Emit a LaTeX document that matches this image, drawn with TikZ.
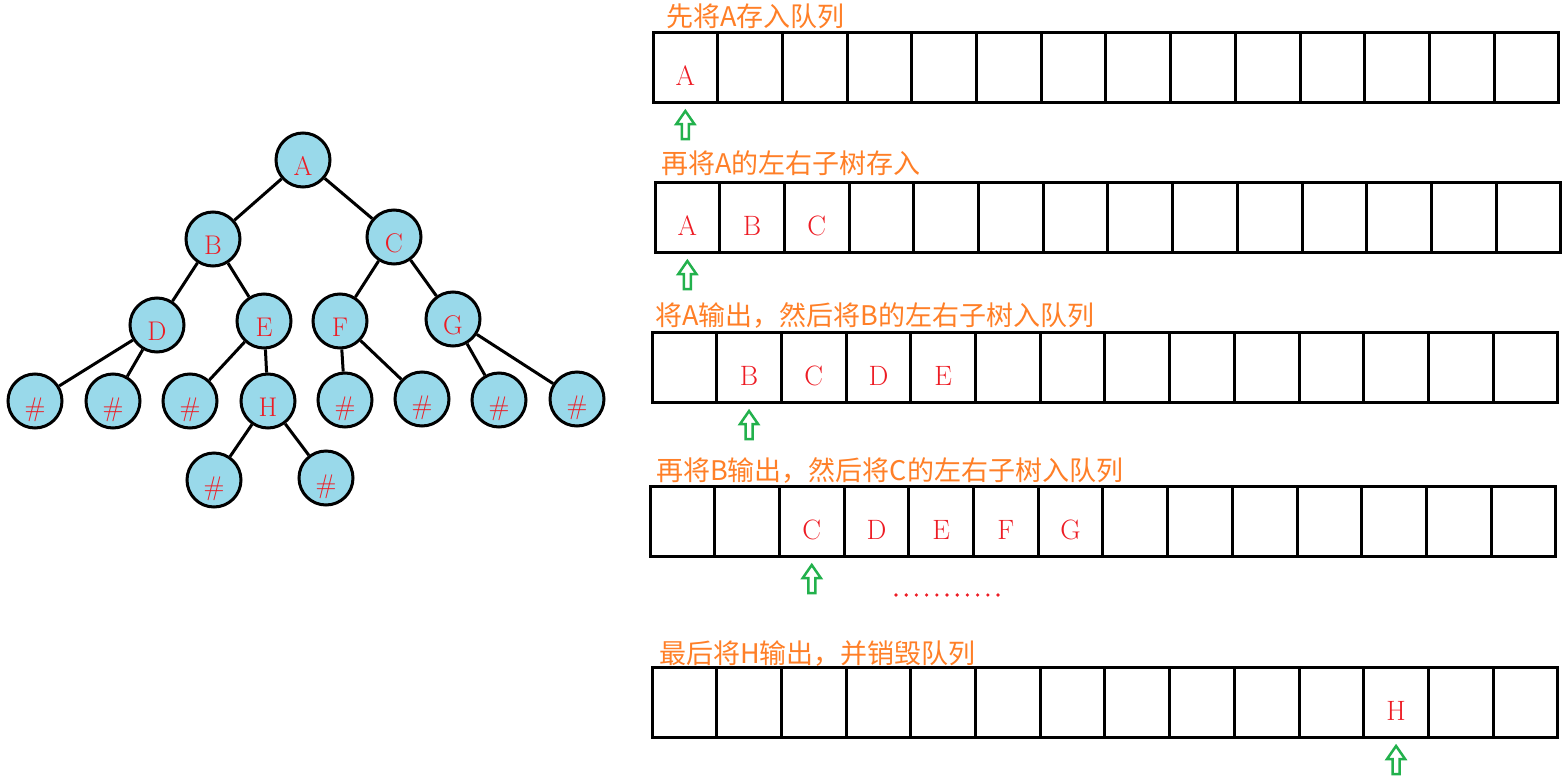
\documentclass[tikz,border=0pt]{standalone}
\usepackage{fontspec}
\newfontfamily\cjk{Noto Sans CJK SC}
\usetikzlibrary{positioning}

\definecolor{nodeblue}{RGB}{153,217,234}
\definecolor{charred}{RGB}{237,28,36}
\definecolor{caporange}{RGB}{255,127,39}
\definecolor{ptrgreen}{RGB}{34,177,76}

\begin{document}
\begin{tikzpicture}[
    x=1pt, y=-1pt,
    tnode/.style={
      circle, draw, line width=3pt,
      fill=nodeblue,
      minimum size=54pt, inner sep=0pt,
      text=charred, font=\fontsize{27}{29}\selectfont,
      text height=31pt, text depth=0pt
    },
    edge/.style={line width=3pt},
    cell/.style={
      draw, line width=3pt,
      minimum width=64.7pt, minimum height=70pt,
      inner sep=0pt, outer sep=0pt
    },
    cellchar/.style={text=charred, inner sep=0pt, font=\fontsize{28}{30}\selectfont},
    caption/.style={anchor=base west, inner sep=0pt, text=caporange,
      font=\cjk\fontsize{27}{30}\selectfont},
    pics/upptr/.style={code={
      \draw[ptrgreen, line width=2.5pt, line join=miter]
      (0,0) -- (9,13) -- (3.5,13) -- (3.5,28) -- (-3.5,28) -- (-3.5,13)
      -- (-9,13) -- cycle;
    }}
  ]

  \useasboundingbox (0,0) rectangle (1568,779);

  % =====================================================
  % TREE
  % =====================================================
  \node[tnode] (A) at (303,160) {A};
  \node[tnode] (B) at (213,239) {B};
  \node[tnode] (C) at (394,237) {C};
  \node[tnode] (D) at (157,325) {D};
  \node[tnode] (E) at (264,321) {E};
  \node[tnode] (F) at (340,321) {F};
  \node[tnode] (G) at (453,319) {G};

  \node[tnode] (nD1) at (35,401) {\#};
  \node[tnode] (nD2) at (113,401) {\#};
  \node[tnode] (nE1) at (190,401) {\#};
  \node[tnode] (H)   at (268,401) {H};
  \node[tnode] (nF1) at (345,400) {\#};
  \node[tnode] (nF2) at (422,399) {\#};
  \node[tnode] (nG1) at (499,400) {\#};
  \node[tnode] (nG2) at (577,399) {\#};

  \node[tnode] (nH1) at (214,480) {\#};
  \node[tnode] (nH2) at (326,478) {\#};

  \foreach \a/\b in {A/B,A/C,B/D,B/E,C/F,C/G,D/nD1,D/nD2,E/nE1,E/H,
                     F/nF1,F/nF2,G/nG1,G/nG2,H/nH1,H/nH2}
    \draw[edge] (\a) -- (\b);

  % =====================================================
  % QUEUES
  % =====================================================
  \def\cw{64.7}

  \foreach \r/\x/\y in {1/653/32,2/655/182,3/652/332,4/650/486,5/652/667}{
    \foreach \i in {0,...,13}{
      \node[cell] (q\r-\i) at ({\x+\cw*(\i+0.5)},{\y+35}) {};
    }
  }

  % contents
  \foreach \r/\i/\t in {1/0/A,2/0/A,2/1/B,2/2/C,3/1/B,3/2/C,3/3/D,3/4/E,
                        4/2/C,4/3/D,4/4/E,4/5/F,4/6/G,5/11/H}
    \node[cellchar] (v\r-\i) at ([yshift=-9pt]q\r-\i.center) {\t};

  % captions
  \node[caption] (cap1) at (666,27)  {先将A存入队列};
  \node[caption] (cap2) at (661,173) {再将A的左右子树存入};
  \node[caption] (cap3) at (655,325) {将A输出，然后将B的左右子树入队列};
  \node[caption] (cap4) at (656,480) {再将B输出，然后将C的左右子树入队列};
  \node[caption] (cap5) at (659,663) {最后将H输出，并销毁队列};

  % head pointers
  \foreach \r/\i in {1/0,2/0,3/1,4/2,5/11}
    \pic (p\r) at ([yshift=-9pt]q\r-\i.south) {upptr};

  % dots
  \foreach \k in {0,...,10}
    \fill[charred] ({896+10.2*\k},595) circle (1.8pt);

\end{tikzpicture}
\end{document}
